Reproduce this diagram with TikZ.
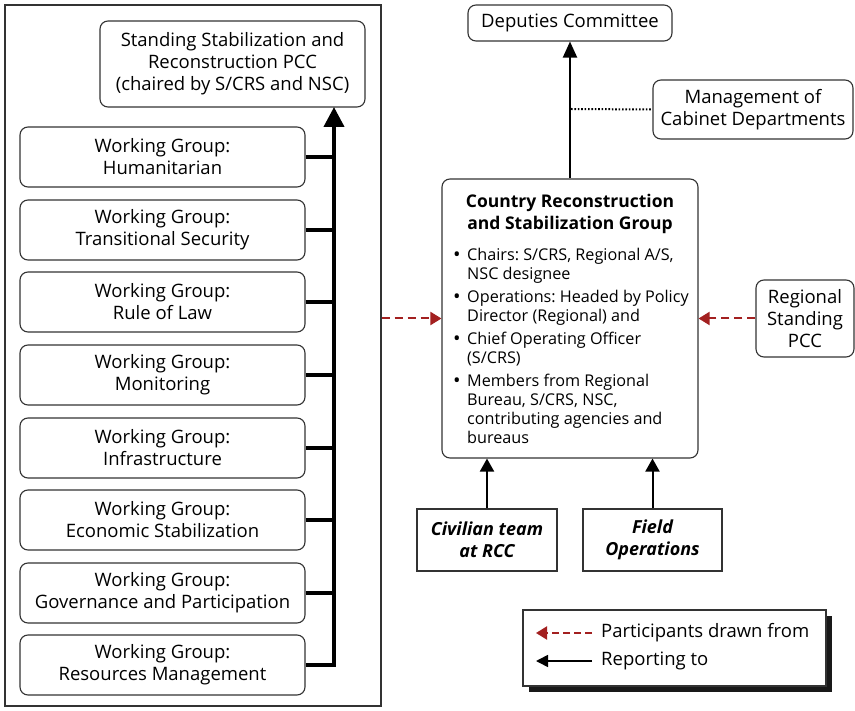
\documentclass[tikz,border=0pt]{standalone}
\usepackage{fontspec}
\setmainfont{Open Sans}
\usetikzlibrary{arrows.meta}
\definecolor{linegray}{HTML}{333333}
\definecolor{darkred}{HTML}{A32020}
\newcommand{\bitem}[1]{\hangindent=13pt\hangafter=1\noindent\makebox[13pt][l]{\hspace{-1pt}\raisebox{-0.5pt}{\fontsize{20}{19}\selectfont\textbullet}}#1\par}
\begin{document}
\frenchspacing
\begin{tikzpicture}[x=1pt,y=-1pt,
  rbox/.style={draw=linegray, line width=1.1pt, rounded corners=8pt, align=center, inner sep=0pt, fill=white,
    font=\fontsize{18.5}{22}\selectfont},
  wg/.style={rbox, minimum width=285pt, minimum height=60pt},
  sbox/.style={draw=linegray, line width=1.1pt, align=center, inner sep=0pt,
    font=\fontsize{18}{22}\selectfont\bfseries\itshape, minimum width=140pt, minimum height=62pt},
  bar/.style={line width=4pt, black},
  rep/.style={line width=2pt, black},
  part/.style={line width=2pt, darkred, dash pattern=on 8pt off 5pt},
  ptip/.style={-{Triangle[length=11pt,width=13pt]}},
  rtip/.style={-{Triangle[length=13pt,width=14pt]}},
]
\useasboundingbox (0,0) rectangle (855,711);
% left frame
\node[draw=linegray, line width=1.1pt, minimum width=376pt, minimum height=701pt, inner sep=0pt] (frame) at (193,355.5) {};
\node[rbox, minimum width=265pt, minimum height=86pt] (pcc) at (232.5,64)
  {Standing Stabilization and\\Reconstruction PCC\\(chaired by S/CRS and NSC)};
\node[wg] (wg1) at (162.5,157) {Working Group:\\Humanitarian};
\node[wg] (wg2) at (162.5,230) {Working Group:\\Transitional Security};
\node[wg] (wg3) at (162.5,302) {Working Group:\\Rule of Law};
\node[wg] (wg4) at (162.5,375) {Working Group:\\Monitoring};
\node[wg] (wg5) at (162.5,448) {Working Group:\\Infrastructure};
\node[wg] (wg6) at (162.5,520) {Working Group:\\Economic Stabilization};
\node[wg] (wg7) at (162.5,593) {Working Group:\\Governance and Participation};
\node[wg] (wg8) at (162.5,665) {Working Group:\\Resources Management};
\coordinate (bartop) at (334,107);
\draw[bar, -{Triangle[length=20pt,width=20pt]}, line join=miter] (wg8.east) -| (bartop);
\foreach \i in {1,...,7} { \draw[bar] (wg\i.east) -- (wg\i.east -| bartop); }
% right side
\node[rbox, minimum width=204pt, minimum height=36pt] (dc) at (570,23) {Deputies Committee};
\node[rbox, minimum width=200pt, minimum height=59pt] (mgmt) at (753,109.5) {Management of\\Cabinet Departments};
\node[rbox, minimum width=256pt, minimum height=279pt] (crsg) at (570,318.5) {};
\node[align=center, inner sep=0pt, font=\fontsize{17.5}{22}\selectfont\bfseries] (title) at (570,214)
  {Country Reconstruction\\and Stabilization Group};
\node[anchor=north west, inner sep=0pt, font=\fontsize{16.2}{19}\selectfont] (items) at (454,248) {%
  \parbox[t]{240pt}{\raggedright
  \bitem{Chairs: S/CRS, Regional A/S,\newline NSC designee}\vspace{4pt}
  \bitem{Operations: Headed by Policy\newline Director (Regional) and}\vspace{4pt}
  \bitem{Chief Operating Officer\newline (S/CRS)}\vspace{4pt}
  \bitem{Members from Regional\newline Bureau, S/CRS, NSC,\newline contributing agencies and\newline bureaus}}};
\node[rbox, minimum width=98pt, minimum height=77pt] (reg) at (805,318.5) {Regional\\Standing\\PCC};
\node[sbox] (civ) at (487,540) {Civilian team\\at RCC};
\node[sbox, minimum width=139pt] (field) at (652.5,540) {Field\\Operations};
% connectors
\draw[rep, -{Triangle[length=16pt,width=14pt]}] (crsg.north) -- (dc.south);
\coordinate (dotstart) at (571,109);
\draw[line width=2pt, dash pattern=on 1.6pt off 1.8pt] (dotstart) -- (mgmt.west);
\draw[rep, rtip] (civ.north) -- (civ.north |- crsg.south);
\draw[rep, rtip] (field.north) -- (field.north |- crsg.south);
\draw[part, ptip] (frame.east |- crsg) -- (crsg.west);
\draw[part, ptip] (reg.west) -- (crsg.east);
% legend
\fill[black!90] (529,616) rectangle (832,692);
\node[draw=linegray, line width=1.1pt, fill=white, minimum width=303pt, minimum height=76pt, inner sep=0pt] (legend) at (674.5,648) {};
\coordinate (l1a) at (592,633);
\coordinate (l1b) at (536,633);
\coordinate (l2a) at (592,661);
\coordinate (l2b) at (536,661);
\draw[part, ptip, dash pattern=on 7pt off 4pt] (l1a) -- (l1b);
\draw[rep, line width=1.6pt, -{Triangle[length=12pt,width=12pt]}] (l2a) -- (l2b);
\node[anchor=west, inner sep=0pt, font=\fontsize{18.5}{22}\selectfont] (lt1) at (601,633) {Participants drawn from};
\node[anchor=west, inner sep=0pt, font=\fontsize{18.5}{22}\selectfont] (lt2) at (601,661) {Reporting to};
\end{tikzpicture}
\end{document}
